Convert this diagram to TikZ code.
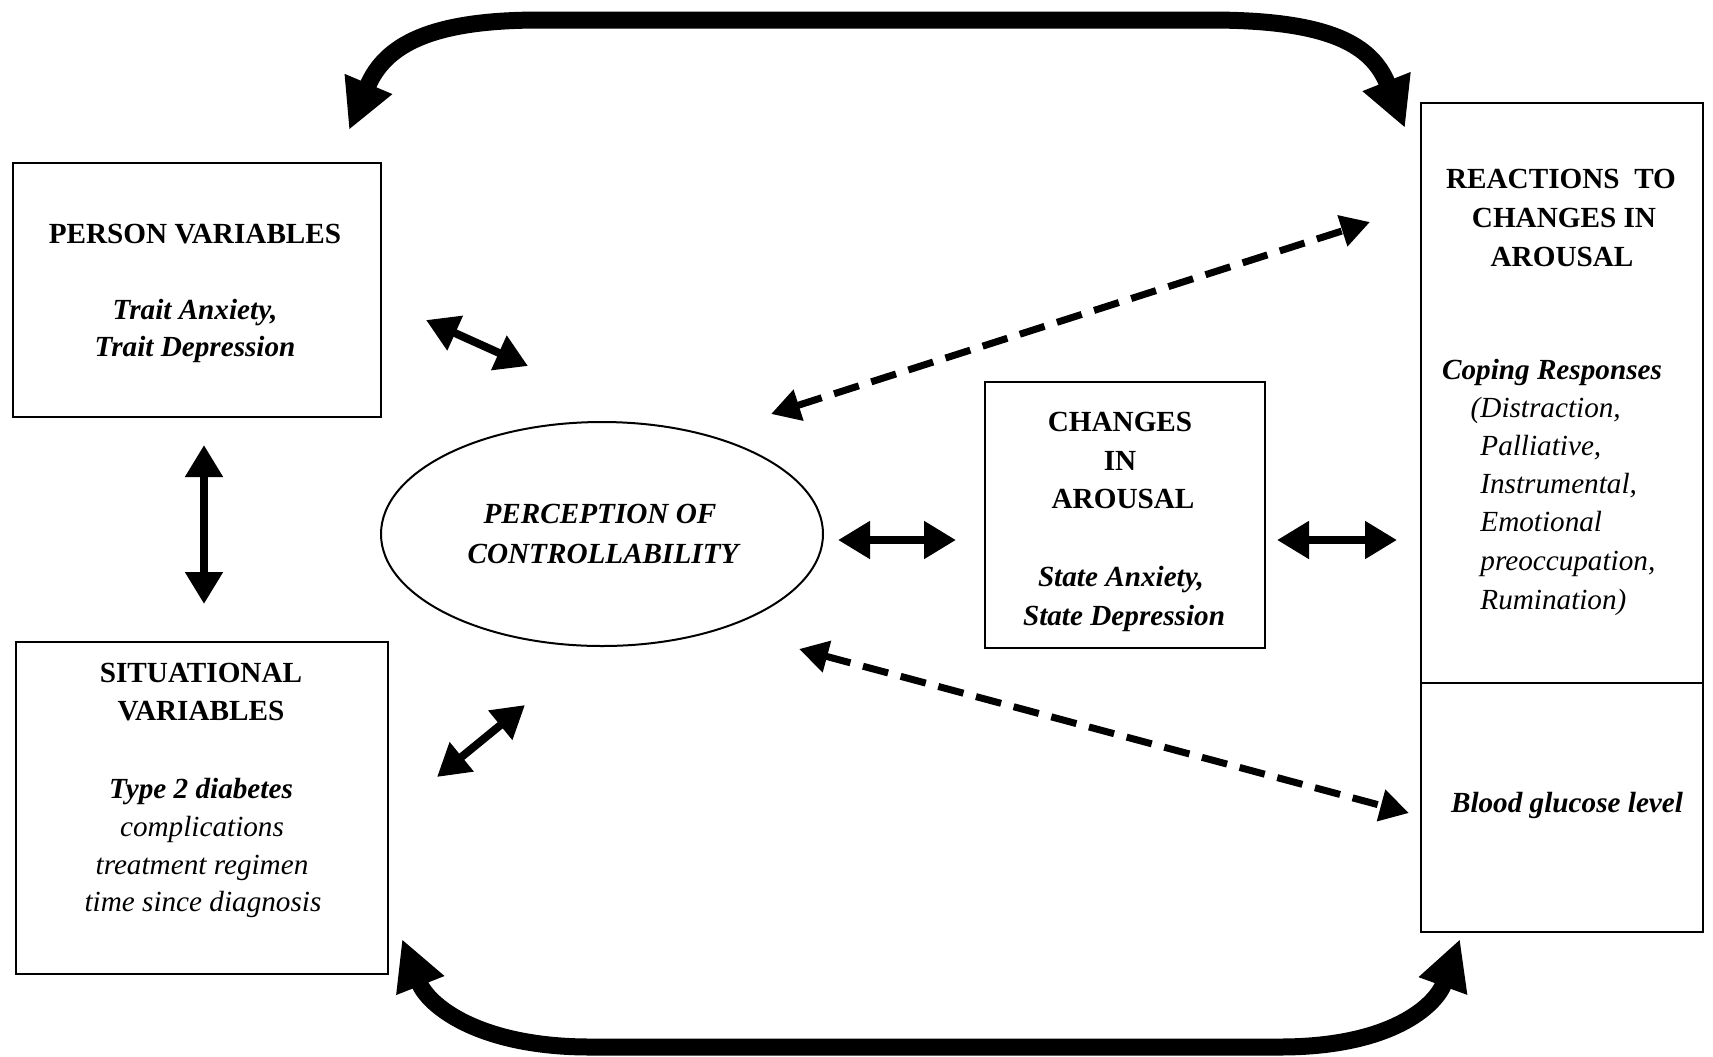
\documentclass[tikz,border=0pt]{standalone}
\usepackage{fontspec}
\setmainfont{Liberation Serif}
\usetikzlibrary{arrows.meta,shapes.geometric}
\begin{document}
\begin{tikzpicture}[x=0.5pt,y=-0.5pt,
  txtbf/.style={font=\fontsize{14.6}{19}\selectfont\bfseries, anchor=base, inner sep=0pt},
  txtbi/.style={font=\fontsize{14.6}{19}\selectfont\bfseries\itshape, anchor=base, inner sep=0pt},
  txtit/.style={font=\fontsize{14.6}{19}\selectfont\itshape, anchor=base, inner sep=0pt},
  box/.style={draw, line width=1.3pt, rectangle, inner sep=0pt},
  dblar/.style={line width=4pt, {Triangle[length=16pt,width=18pt]}-{Triangle[length=16pt,width=18pt]}},
  dashar/.style={line width=3.5pt, dash pattern=on 13pt off 6.5pt,
     {Triangle[length=14.5pt,width=15.5pt]}-{Triangle[length=14.5pt,width=15.5pt]}},
  loopar/.style={line width=8.5pt, {Triangle[length=25pt,width=24pt]}-{Triangle[length=25pt,width=24pt]}}
]
\useasboundingbox (0,0) rectangle (1713,1056);

% boxes
\node[box, minimum width=184pt, minimum height=127pt] (person) at (197,290) {};
\node[box, minimum width=186pt, minimum height=166pt] (situ) at (202,808) {};
\node[draw, line width=1pt, ellipse, inner sep=0pt, minimum width=221pt, minimum height=112pt] (ctrl) at (602,534) {};
\node[box, minimum width=140pt, minimum height=133pt] (change) at (1125,515) {};
\node[box, minimum width=141pt, minimum height=290pt] (react) at (1562,393) {};
\node[box, minimum width=141pt, minimum height=124.5pt] (gluc) at (1562,807.5) {};

% person variables
\node[txtbf] (p1) at (195,243) {PERSON VARIABLES};
\node[txtbi] (p2) at (195,319) {Trait Anxiety,};
\node[txtbi] (p3) at (195,356) {Trait Depression};

% situational variables
\node[txtbf] (s1) at (201,682) {SITUATIONAL};
\node[txtbf] (s2) at (201,720) {VARIABLES};
\node[txtbi] (s3) at (201,798) {Type 2 diabetes};
\node[txtit] (s4) at (202,836) {complications};
\node[txtit] (s5) at (202,874) {treatment regimen};
\node[txtit] (s6) at (203,911) {time since diagnosis};

% perception of controllability
\node[txtbi] (c1) at (600,523) {PERCEPTION OF};
\node[txtbi] (c2) at (603,563) {CONTROLLABILITY};

% changes in arousal
\node[txtbf] (a1) at (1120,431) {CHANGES};
\node[txtbf] (a2) at (1120,470) {IN};
\node[txtbf] (a3) at (1123,508) {AROUSAL};
\node[txtbi] (a4) at (1121,586) {State Anxiety,};
\node[txtbi] (a5) at (1124,625) {State Depression};

% reactions to changes in arousal
\node[txtbf] (r1) at (1561,188) {REACTIONS\ \ TO};
\node[txtbf] (r2) at (1564,227) {CHANGES IN};
\node[txtbf] (r3) at (1562,266) {AROUSAL};
\node[txtbi] (r4) at (1552,379) {Coping Responses};
\node[txtit, anchor=base west] (r5) at (1480,417) {\llap{(}Distraction,};
\node[txtit, anchor=base west] (r6) at (1480,455) {Palliative,};
\node[txtit, anchor=base west] (r7) at (1480,493) {Instrumental,};
\node[txtit, anchor=base west] (r8) at (1480,531) {Emotional};
\node[txtit, anchor=base west] (r9) at (1480,570) {preoccupation,};
\node[txtit, anchor=base west] (r10) at (1480,609) {Rumination)};

% blood glucose
\node[txtbi] (g1) at (1567,812) {Blood glucose level};

% connector end points
\coordinate (pa1) at (426,320);  \coordinate (pa2) at (528,366);
\coordinate (pv1) at (204,445);  \coordinate (pv2) at (204,604);
\coordinate (sa1) at (437,777);  \coordinate (sa2) at (525,705);
\coordinate (ca1) at (838,540);  \coordinate (ca2) at (956,540);
\coordinate (ra1) at (1277,540); \coordinate (ra2) at (1397,540);
\coordinate (da1) at (771,414);  \coordinate (da2) at (1370,222);
\coordinate (db1) at (799,649);  \coordinate (db2) at (1409,813);
\coordinate (ta1) at (349,130);  \coordinate (ta2) at (1405,128);
\coordinate (ba1) at (402,939);  \coordinate (ba2) at (1460,939);

% solid double arrows
\draw[dblar] (pa1) -- (pa2);
\draw[dblar] (pv1) -- (pv2);
\draw[dblar] (sa1) -- (sa2);
\draw[dblar] (ca1) -- (ca2);
\draw[dblar] (ra1) -- (ra2);

% dashed double arrows
\draw[dashar] (da1) -- (da2);
\draw[dashar] (db1) -- (db2);

% large curved feedback arrows
\draw[loopar] (ta1) .. controls (385,45) and (430,20) .. (540,20) -- (1210,20)
   .. controls (1330,20) and (1372,45) .. (ta2);
\draw[loopar] (ba1) .. controls (428,1005) and (478,1047) .. (590,1047) -- (1280,1047)
   .. controls (1392,1047) and (1436,1005) .. (ba2);
\end{tikzpicture}
\end{document}
